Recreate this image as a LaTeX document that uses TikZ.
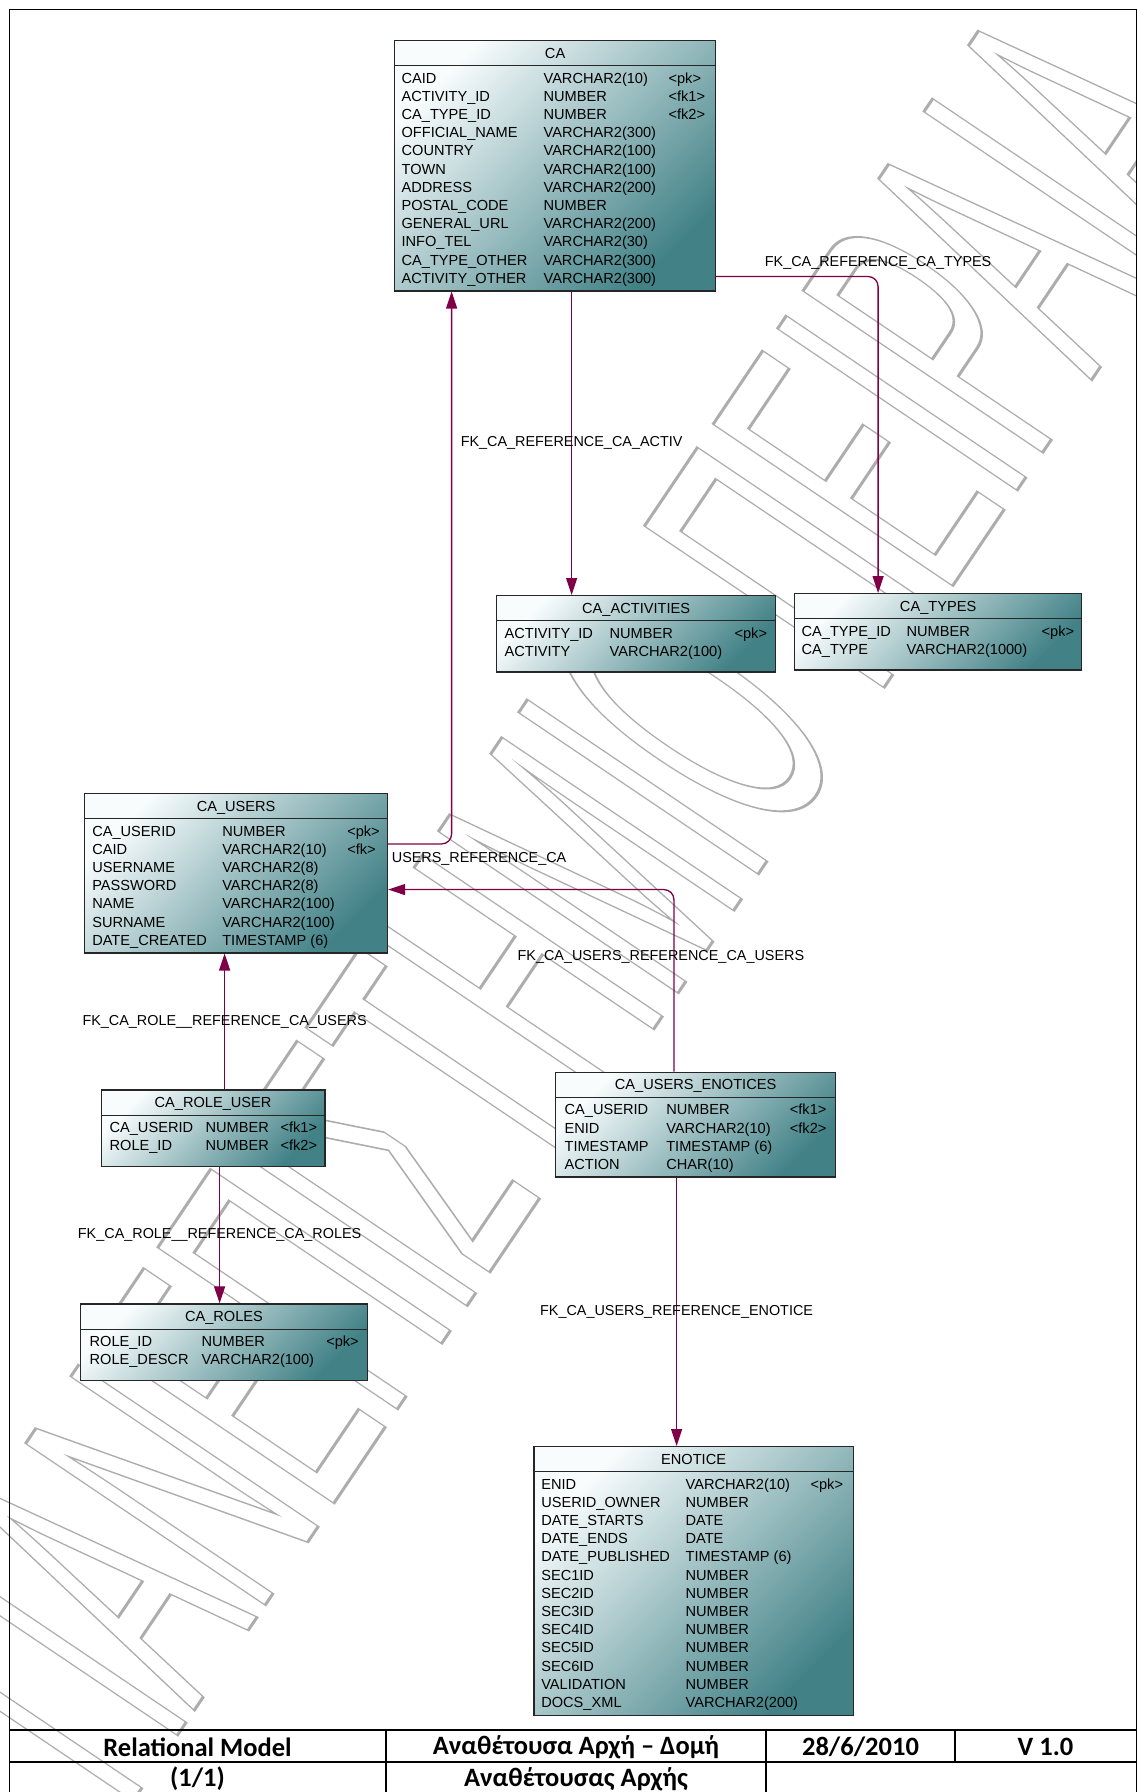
\documentclass[tikz,border=0pt]{standalone}
\usepackage{fontspec}
\setmainfont{Liberation Sans}
\newfontfamily\blockfont{Carlito}
\usepackage{tikz}
\usetikzlibrary{arrows.meta, shapes.multipart, calc}

\definecolor{fkred}{RGB}{128,0,72}
\definecolor{tabtop}{RGB}{248,252,253}
\definecolor{tabbot}{RGB}{66,130,135}

\begin{document}
\begin{tikzpicture}[x=1pt, y=-1pt, >={Triangle[length=17pt, width=11pt]},
    dbtable/.style={rectangle split, rectangle split parts=2, draw=black!85, line width=1.2pt,
        top color=tabtop, bottom color=tabbot, shading angle=45,
        inner xsep=0pt, inner ysep=0pt, anchor=north west,
        font=\fontsize{14.6}{18.2}\selectfont},
    fk/.style={draw=fkred, line width=1.3pt, rounded corners=10pt, ->},
    lbl/.style={font=\fontsize{14.4}{16}\selectfont, inner sep=0pt},
    blk/.style={font=\blockfont\bfseries\fontsize{26.5}{30}\selectfont, inner sep=0pt}]
    \useasboundingbox (0,0) rectangle (1137,1792);
    \node[rotate=56, xscale=0.405, inner sep=0pt, text=black!32,
        font=\fontsize{420}{420}\selectfont] (wmark) at (565,902)
        {\special{pdf:literal direct 1 Tr 3 w}ΠΑΝΕΠΙΣΤΗΜΙΟ ΠΕΙΡΑΙΑ\special{pdf:literal direct 0 Tr}};
    \draw (9,1792) -- (9,9) -- (1136,9) -- (1136,1792);

    \node[dbtable] (ca) at (394,40) {\rule[-7pt]{0pt}{24pt}CA
        \nodepart{two}\begin{tabular}{@{\hspace{7pt}}p{142pt}@{}p{125pt}@{}p{47pt}@{}}\noalign{\vskip4pt}
        CAID & VARCHAR2(10) & <pk>\\
        ACTIVITY\_ID & NUMBER & <fk1>\\
        CA\_TYPE\_ID & NUMBER & <fk2>\\
        OFFICIAL\_NAME & VARCHAR2(300) & \\
        COUNTRY & VARCHAR2(100) & \\
        TOWN & VARCHAR2(100) & \\
        ADDRESS & VARCHAR2(200) & \\
        POSTAL\_CODE & NUMBER & \\
        GENERAL\_URL & VARCHAR2(200) & \\
        INFO\_TEL & VARCHAR2(30) & \\
        CA\_TYPE\_OTHER & VARCHAR2(300) & \\
        ACTIVITY\_OTHER & VARCHAR2(300) & \\ \noalign{\vskip1.5pt}
        \end{tabular}};
    \node[dbtable] (caact) at (496,595) {\rule[-7pt]{0pt}{24pt}CA\_ACTIVITIES
        \nodepart{two}\begin{tabular}{@{\hspace{8pt}}p{105pt}@{}p{125pt}@{}p{41pt}@{}}\noalign{\vskip4pt}
        ACTIVITY\_ID & NUMBER & <pk>\\
        ACTIVITY & VARCHAR2(100) & \\ \noalign{\vskip9.5pt}
        \end{tabular}};
    \node[dbtable] (catypes) at (794,593) {\rule[-7pt]{0pt}{24pt}CA\_TYPES
        \nodepart{two}\begin{tabular}{@{\hspace{7pt}}p{105pt}@{}p{135pt}@{}p{40pt}@{}}\noalign{\vskip4pt}
        CA\_TYPE\_ID & NUMBER & <pk>\\
        CA\_TYPE & VARCHAR2(1000) & \\ \noalign{\vskip9.5pt}
        \end{tabular}};
    \node[dbtable] (causers) at (84,793) {\rule[-7pt]{0pt}{24pt}CA\_USERS
        \nodepart{two}\begin{tabular}{@{\hspace{7.7pt}}p{130pt}@{}p{125pt}@{}p{40.3pt}@{}}\noalign{\vskip4pt}
        CA\_USERID & NUMBER & <pk>\\
        CAID & VARCHAR2(10) & <fk>\\
        USERNAME & VARCHAR2(8) & \\
        PASSWORD & VARCHAR2(8) & \\
        NAME & VARCHAR2(100) & \\
        SURNAME & VARCHAR2(100) & \\
        DATE\_CREATED & TIMESTAMP (6) & \\ \noalign{\vskip1.5pt}
        \end{tabular}};
    \node[dbtable] (caroleuser) at (100.7,1089.3) {\rule[-7pt]{0pt}{24pt}CA\_ROLE\_USER
        \nodepart{two}\begin{tabular}{@{\hspace{8.3pt}}p{96pt}@{}p{75pt}@{}p{44.3pt}@{}}\noalign{\vskip4pt}
        CA\_USERID & NUMBER & <fk1>\\
        ROLE\_ID & NUMBER & <fk2>\\ \noalign{\vskip9.5pt}
        \end{tabular}};
    \node[dbtable] (caroles) at (80,1303.3) {\rule[-7pt]{0pt}{24pt}CA\_ROLES
        \nodepart{two}\begin{tabular}{@{\hspace{9pt}}p{112pt}@{}p{124.7pt}@{}p{41pt}@{}}\noalign{\vskip4pt}
        ROLE\_ID & NUMBER & <pk>\\
        ROLE\_DESCR & VARCHAR2(100) & \\ \noalign{\vskip9.5pt}
        \end{tabular}};
    \node[dbtable] (cauen) at (555,1071.7) {\rule[-7pt]{0pt}{24pt}CA\_USERS\_ENOTICES
        \nodepart{two}\begin{tabular}{@{\hspace{9pt}}p{101.7pt}@{}p{123.6pt}@{}p{45.7pt}@{}}\noalign{\vskip4pt}
        CA\_USERID & NUMBER & <fk1>\\
        ENID & VARCHAR2(10) & <fk2>\\
        TIMESTAMP & TIMESTAMP (6) & \\
        ACTION & CHAR(10) & \\ \noalign{\vskip1.5pt}
        \end{tabular}};
    \node[dbtable] (enotice) at (533.3,1446) {\rule[-7pt]{0pt}{24pt}ENOTICE
        \nodepart{two}\begin{tabular}{@{\hspace{7.4pt}}p{144.3pt}@{}p{125pt}@{}p{42.7pt}@{}}\noalign{\vskip4pt}
        ENID & VARCHAR2(10) & <pk>\\
        USERID\_OWNER & NUMBER & \\
        DATE\_STARTS & DATE & \\
        DATE\_ENDS & DATE & \\
        DATE\_PUBLISHED & TIMESTAMP (6) & \\
        SEC1ID & NUMBER & \\
        SEC2ID & NUMBER & \\
        SEC3ID & NUMBER & \\
        SEC4ID & NUMBER & \\
        SEC5ID & NUMBER & \\
        SEC6ID & NUMBER & \\
        VALIDATION & NUMBER & \\
        DOCS\_XML & VARCHAR2(200) & \\ \noalign{\vskip1.5pt}
        \end{tabular}};

    \draw[fk] ([xshift=16.5pt]ca.south) coordinate (a1) -- (a1 |- caact.north)
        node[lbl, midway] {FK\_CA\_REFERENCE\_CA\_ACTIV};
    \draw[fk] ([yshift=15pt]ca.south east) -| ([xshift=-60pt]catypes.north)
        node[lbl, pos=0.5, above=6pt] {FK\_CA\_REFERENCE\_CA\_TYPES};
    \draw[fk] ([yshift=29.3pt]causers.east) -| ([xshift=-103.5pt]ca.south)
        node[lbl, at start, anchor=north west, xshift=3pt, yshift=-8.3pt] {USERS\_REFERENCE\_CA};
    \draw[fk] ([xshift=-21.7pt]cauen.north) |- ([yshift=-16.3pt]causers.east)
        node[lbl, pos=0.315, xshift=-13pt] {FK\_CA\_USERS\_REFERENCE\_CA\_USERS};
    \draw[fk] ([xshift=11.5pt]caroleuser.north) coordinate (a5) -- (a5 |- causers.south)
        node[lbl, midway] {FK\_CA\_ROLE\_\_REFERENCE\_CA\_USERS};
    \draw[fk] ([xshift=6.5pt]caroleuser.south) coordinate (a6) -- (a6 |- caroles.north)
        node[lbl, midway] {FK\_CA\_ROLE\_\_REFERENCE\_CA\_ROLES};
    \draw[fk] ([xshift=-19pt]cauen.south) coordinate (a7) -- (a7 |- enotice.north)
        node[lbl, midway] {FK\_CA\_USERS\_REFERENCE\_ENOTICE};

    \draw[line width=1.5pt] (9,1730) -- (1136,1730);
    \draw[line width=1.5pt] (9,1762) -- (1136,1762);
    \draw[line width=1.5pt] (386,1730) -- (386,1792);
    \draw[line width=1.5pt] (766,1730) -- (766,1792);
    \draw[line width=1.5pt] (955,1730) -- (955,1762);
    \node[blk] (tbmodel) at (197.5,1747) {Relational Model};
    \node[blk] (tbtitle) at (576,1747) {Αναθέτουσα Αρχή – Δομή};
    \node[blk] (tbdate) at (860.5,1747) {28/6/2010};
    \node[blk] (tbver) at (1045.5,1747) {V 1.0};
    \node[blk] (tbpage) at (197.5,1779) {(1/1)};
    \node[blk] (tbtitletwo) at (576,1779) {Αναθέτουσας Αρχής};
\end{tikzpicture}
\end{document}
